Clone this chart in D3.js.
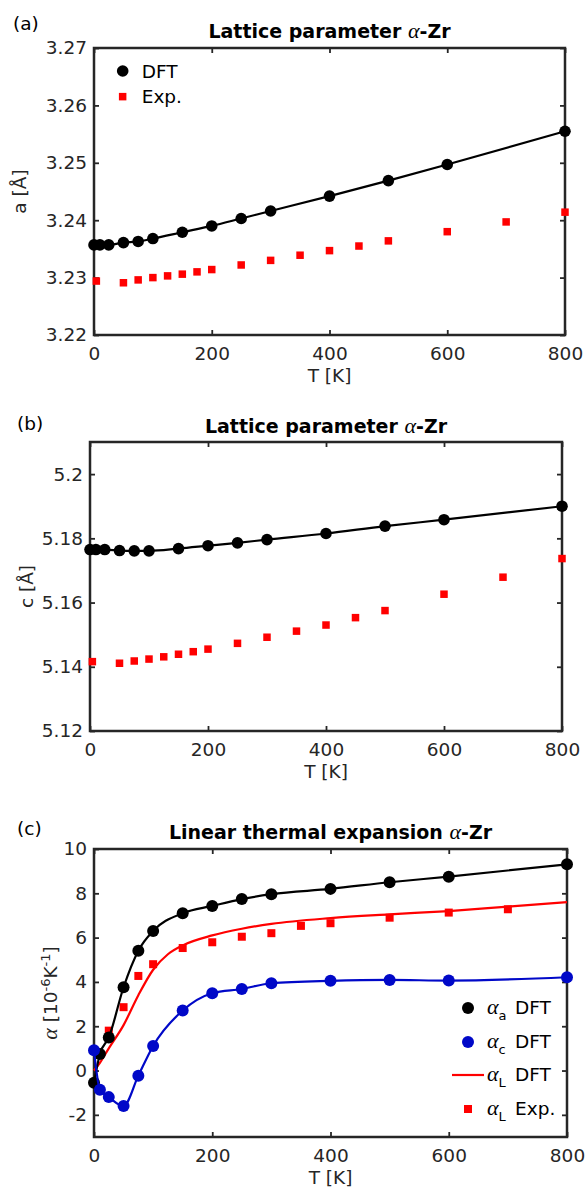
<!DOCTYPE html>
<html>
<head>
<meta charset="utf-8">
<script src="https://cdn.jsdelivr.net/npm/d3@7"></script>
<style>
  body { margin: 0; background: #fff; }
  svg { display: block; }
</style>
</head>
<body>
<div id="chart"></div>
<script>
// temperatures (K)
var T_TICKS = [0, 200, 400, 600, 800];
var T_DFT = [0, 10, 25, 50, 75, 100, 150, 200, 250, 300, 400, 500, 600, 800];
var T_EXP = [4, 50, 75, 100, 125, 150, 175, 200, 250, 300, 350, 400, 450, 500, 600, 700, 800];

// (a) lattice parameter a [Å]
var A_TICKS = [3.22, 3.23, 3.24, 3.25, 3.26, 3.27];
var A_DFT = [3.2357, 3.2357, 3.2357, 3.2361, 3.2363, 3.2368, 3.2379, 3.2390, 3.2403, 3.2416, 3.2442, 3.2469, 3.2497, 3.2555];
var A_EXP = [3.2294, 3.2291, 3.2296, 3.2300, 3.2303, 3.2306, 3.2310, 3.2314, 3.2322, 3.2330, 3.2339, 3.2347, 3.2355, 3.2364, 3.2380, 3.2397, 3.2414];

// (b) lattice parameter c [Å]
var C_TICKS = [5.12, 5.14, 5.16, 5.18, 5.2];
var C_DFT = [5.1765, 5.1765, 5.1765, 5.1762, 5.1761, 5.1761, 5.1768, 5.1777, 5.1786, 5.1796, 5.1815, 5.1838, 5.1858, 5.1900];
var C_EXP = [5.1416, 5.1411, 5.1418, 5.1424, 5.1431, 5.1439, 5.1447, 5.1455, 5.1473, 5.1492, 5.1511, 5.1530, 5.1553, 5.1575, 5.1626, 5.1679, 5.1737];

// (c) linear thermal expansion [1e-6 / K]
var ALPHA_TICKS = [-2, 0, 2, 4, 6, 8, 10];
var ALPHA_A = [-0.55, 0.75, 1.49, 3.76, 5.41, 6.30, 7.10, 7.43, 7.74, 7.96, 8.20, 8.50, 8.75, 9.31];
var ALPHA_C = [0.92, -0.87, -1.2, -1.6, -0.23, 1.11, 2.71, 3.49, 3.68, 3.94, 4.05, 4.09, 4.06, 4.21];
var T_L_DFT = [0, 10, 25, 50, 75, 100, 125, 150, 200, 250, 300, 400, 500, 600, 700, 800];
var ALPHA_L_DFT = [0.0, 0.35, 1.0, 2.05, 3.4, 4.55, 5.25, 5.65, 6.1, 6.4, 6.62, 6.88, 7.05, 7.2, 7.4, 7.6];
var T_L_EXP = [25, 50, 75, 100, 150, 200, 250, 300, 350, 400, 500, 600, 700];
var ALPHA_L_EXP = [1.80, 2.86, 4.27, 4.80, 5.53, 5.79, 6.04, 6.20, 6.53, 6.65, 6.90, 7.13, 7.28];

var FONT = "DejaVu Sans, Liberation Sans, Arial, sans-serif";
var GREEK = "Liberation Serif, DejaVu Serif, serif";
var AX = "#262626";
var RED = "#ff0000", BLUE = "#0008c8";

var svg = d3.select("#chart").append("svg").attr("width", 587).attr("height", 1201);
svg.append("rect").attr("width", 587).attr("height", 1201).attr("fill", "#fff");

function zip(xs, ys) {
    return xs.map(function (t, i) { return [t, ys[i]]; });
}

// one framed MATLAB-like panel
function panel(cfg) {
    var x = d3.scaleLinear().domain([0, 800]).range([cfg.left, cfg.right]);
    var y = d3.scaleLinear().domain(cfg.yDomain).range([cfg.bottom, cfg.top]);
    var g = svg.append("g");

    var axes = [
        [d3.axisBottom(x).tickValues(T_TICKS).tickPadding(12), "translate(0," + cfg.bottom + ")"],
        [d3.axisTop(x).tickValues(T_TICKS).tickFormat(""), "translate(0," + cfg.top + ")"],
        [d3.axisLeft(y).tickValues(cfg.yTicks).tickPadding(7).tickFormat(cfg.fmt), "translate(" + cfg.left + ",0)"],
        [d3.axisRight(y).tickValues(cfg.yTicks).tickFormat(""), "translate(" + cfg.right + ",0)"]
    ];
    axes.forEach(function (a) {
        var ag = g.append("g").attr("transform", a[1])
            .call(a[0].tickSize(-5).tickSizeOuter(0));
        ag.attr("font-family", FONT).attr("font-size", 18.5);
        ag.select(".domain").remove();
        ag.selectAll(".tick line").attr("stroke", AX).attr("stroke-width", 1.8);
        ag.selectAll(".tick text").attr("fill", AX);
    });

    g.append("rect").attr("x", cfg.left).attr("y", cfg.top)
        .attr("width", cfg.right - cfg.left).attr("height", cfg.bottom - cfg.top)
        .attr("fill", "none").attr("stroke", AX).attr("stroke-width", 2.5);

    // panel letter
    g.append("text").attr("x", cfg.tagX).attr("y", cfg.tagY).text(cfg.tag)
        .attr("font-family", FONT).attr("font-size", 18.5).attr("fill", "#000");

    // title
    var title = g.append("text").attr("x", (cfg.left + cfg.right) / 2).attr("y", cfg.titleY)
        .attr("text-anchor", "middle").attr("font-family", FONT).attr("font-size", 19)
        .attr("font-weight", "bold").attr("fill", "#000");
    title.append("tspan").text(cfg.title);
    title.append("tspan").text("α").attr("font-family", GREEK).attr("font-style", "italic")
        .attr("font-weight", "normal").attr("font-size", 22);
    title.append("tspan").text("-Zr");

    // x label
    g.append("text").attr("x", (cfg.left + cfg.right) / 2).attr("y", cfg.bottom + 47)
        .attr("text-anchor", "middle").attr("font-family", FONT).attr("font-size", 18.5)
        .attr("fill", AX).text("T [K]");

    return { g: g, x: x, y: y };
}

function line(p, pts, color, curve) {
    var l = d3.line().x(function (d) { return p.x(d[0]); }).y(function (d) { return p.y(d[1]); })
        .curve(curve || d3.curveMonotoneX);
    p.g.append("path").attr("d", l(pts)).attr("fill", "none").attr("stroke", color)
        .attr("stroke-width", 2.2).attr("stroke-linejoin", "round");
}
function dots(p, pts, color, r) {
    p.g.selectAll(null).data(pts).enter().append("circle")
        .attr("cx", function (d) { return p.x(d[0]); }).attr("cy", function (d) { return p.y(d[1]); })
        .attr("r", r).attr("fill", color);
}
function squares(p, pts, color, s) {
    p.g.selectAll(null).data(pts).enter().append("rect")
        .attr("x", function (d) { return p.x(d[0]) - s / 2; }).attr("y", function (d) { return p.y(d[1]) - s / 2; })
        .attr("width", s).attr("height", s).attr("fill", color);
}
function ylabel(p, x, cy, build) {
    var t = p.g.append("text").attr("transform", "translate(" + x + "," + cy + ") rotate(-90)")
        .attr("text-anchor", "middle").attr("font-family", FONT).attr("font-size", 18.5).attr("fill", AX);
    build(t);
}

// (a)
var pa = panel({ left: 94, right: 565, top: 48, bottom: 335, yDomain: [3.22, 3.27], yTicks: A_TICKS,
    fmt: d3.format(".2f"), tag: "(a)", tagX: 13, tagY: 30, title: "Lattice parameter ", titleY: 38 });
line(pa, zip(T_DFT, A_DFT), "#000");
dots(pa, zip(T_DFT, A_DFT), "#000", 5.8);
squares(pa, zip(T_EXP, A_EXP), RED, 7.5);
ylabel(pa, 26, (48 + 335) / 2, function (t) { t.text("a [Å]"); });
pa.g.append("circle").attr("cx", 122.7).attr("cy", 71).attr("r", 5.8).attr("fill", "#000");
pa.g.append("text").attr("x", 141.7).attr("y", 78).text("DFT").attr("font-family", FONT).attr("font-size", 18.5).attr("fill", "#000");
pa.g.append("rect").attr("x", 118.9).attr("y", 92.9).attr("width", 7.5).attr("height", 7.5).attr("fill", RED);
pa.g.append("text").attr("x", 141.7).attr("y", 103).text("Exp.").attr("font-family", FONT).attr("font-size", 18.5).attr("fill", "#000");

// (b)
var pb = panel({ left: 90, right: 562, top: 442, bottom: 731, yDomain: [5.12, 5.21], yTicks: C_TICKS,
    fmt: function (d) { return String(+d.toFixed(2)); }, tag: "(b)", tagX: 17, tagY: 430,
    title: "Lattice parameter ", titleY: 433 });
line(pb, zip(T_DFT, C_DFT), "#000");
dots(pb, zip(T_DFT, C_DFT), "#000", 5.8);
squares(pb, zip(T_EXP, C_EXP), RED, 7.5);
ylabel(pb, 33, (442 + 731) / 2, function (t) { t.text("c [Å]"); });

// (c)
var pc = panel({ left: 94, right: 567, top: 849, bottom: 1137, yDomain: [-3, 10], yTicks: ALPHA_TICKS,
    fmt: function (d) { return String(d); }, tag: "(c)", tagX: 17, tagY: 835,
    title: "Linear thermal expansion ", titleY: 839 });
squares(pc, zip(T_L_EXP, ALPHA_L_EXP), RED, 8);
line(pc, zip(T_L_DFT, ALPHA_L_DFT), RED);
line(pc, zip(T_DFT, ALPHA_A), "#000");
dots(pc, zip(T_DFT, ALPHA_A), "#000", 6);
line(pc, zip(T_DFT, ALPHA_C), BLUE);
dots(pc, zip(T_DFT, ALPHA_C), BLUE, 6);
ylabel(pc, 57, (849 + 1137) / 2, function (t) {
    t.append("tspan").text("α").attr("font-family", GREEK).attr("font-style", "italic").attr("font-size", 22);
    t.append("tspan").text(" [10");
    t.append("tspan").text("-6").attr("font-size", 13).attr("dy", -7);
    t.append("tspan").text("K").attr("dy", 7);
    t.append("tspan").text("-1").attr("font-size", 13).attr("dy", -7);
    t.append("tspan").text("]").attr("dy", 7);
});

// legend (c)
var legRows = [
    { sub: "a", label: "DFT", kind: "dot", color: "#000", y: 1008 },
    { sub: "c", label: "DFT", kind: "dot", color: BLUE, y: 1042 },
    { sub: "L", label: "DFT", kind: "line", color: RED, y: 1075 },
    { sub: "L", label: "Exp.", kind: "square", color: RED, y: 1109 }
];
legRows.forEach(function (r) {
    if (r.kind === "dot") {
        pc.g.append("circle").attr("cx", 468).attr("cy", r.y).attr("r", 6).attr("fill", r.color);
    } else if (r.kind === "line") {
        pc.g.append("line").attr("x1", 452).attr("x2", 484).attr("y1", r.y).attr("y2", r.y)
            .attr("stroke", r.color).attr("stroke-width", 2.2);
    } else {
        pc.g.append("rect").attr("x", 464).attr("y", r.y - 4).attr("width", 8).attr("height", 8).attr("fill", r.color);
    }
    var t = pc.g.append("text").attr("x", 487).attr("y", r.y + 6).attr("font-family", FONT)
        .attr("font-size", 18.5).attr("fill", "#000");
    t.append("tspan").text("α").attr("font-family", GREEK).attr("font-style", "italic").attr("font-size", 22);
    t.append("tspan").text(r.sub).attr("font-size", 13).attr("dy", 6);
    t.append("tspan").text(r.label).attr("x", 515).attr("dy", -6);
});
</script>
</body>
</html>
